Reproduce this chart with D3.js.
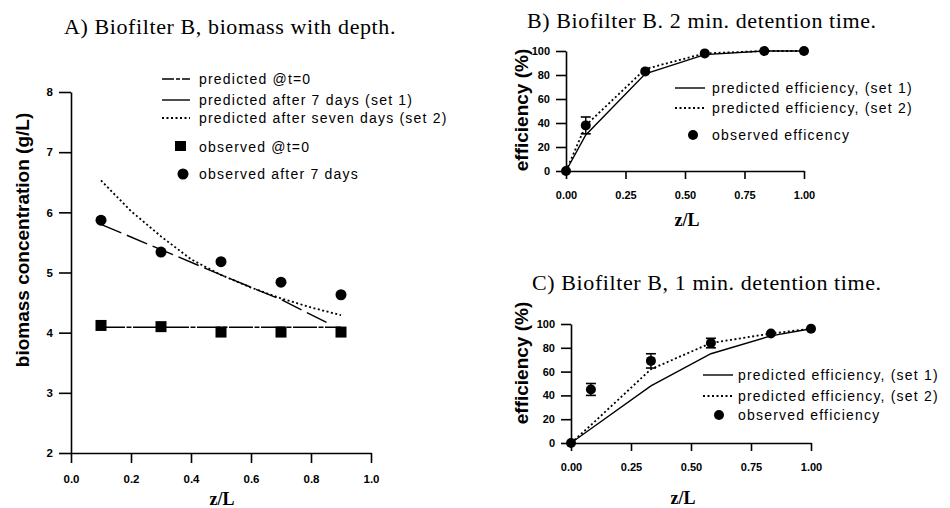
<!DOCTYPE html>
<html><head><meta charset="utf-8">
<script src="https://cdn.jsdelivr.net/npm/d3@7"></script>
<style>
body{margin:0;background:#fff;}
svg{display:block;}
.tick text{font-family:"Liberation Sans",Arial,sans-serif;font-weight:bold;font-size:11px;fill:#000;}
.title{font-family:"Liberation Serif","Times New Roman",serif;font-size:22px;letter-spacing:0.6px;}
.leg{font-family:"Liberation Sans",Arial,sans-serif;font-size:14px;letter-spacing:1.2px;}
.ylab{font-family:"Liberation Sans",Arial,sans-serif;font-weight:bold;font-size:19px;}
.xlab{font-family:"Liberation Serif","Times New Roman",serif;font-weight:bold;font-size:18px;}
</style></head>
<body><svg id="chart" width="950" height="508"></svg>
<script>
// ---------- Panel A data ----------
const aObsX = [0.1, 0.3, 0.5, 0.7, 0.9];
const aObsT0 = [4.12, 4.10, 4.01, 4.01, 4.01];
const aObs7 = [5.87, 5.34, 5.18, 4.84, 4.63];
const aPredT0X = [0.1, 0.9];
const aPredT0 = [4.09, 4.09];
const aSet1X = [0.1, 0.3, 0.5, 0.7, 0.86];
const aSet1 = [5.80, 5.38, 4.96, 4.55, 4.15];
const aSet2X = [0.1, 0.2, 0.3, 0.4, 0.5, 0.6, 0.7, 0.8, 0.9];
const aSet2 = [6.53, 6.02, 5.60, 5.22, 4.96, 4.75, 4.57, 4.42, 4.29];
const aXTicks = [0.0, 0.2, 0.4, 0.6, 0.8, 1.0];
const aYTicks = [2, 3, 4, 5, 6, 7, 8];
// ---------- Panel B data ----------
const effX = [0, 0.083, 0.333, 0.583, 0.833, 1.0];
const bObs = [0, 38, 83, 98, 100, 100];
const bErr = [0, 7, 0, 0, 0, 0];
const bSet1 = [0, 30, 81, 97, 100, 100];
const bSet2 = [0, 38, 85, 98, 100, 100];
// ---------- Panel C data ----------
const cObs = [0, 45, 69, 84, 92, 96];
const cErr = [0, 5, 6, 4, 0, 0];
const cSet1 = [0, 12, 48, 75, 90, 96];
const cSet2 = [0, 15, 62, 84, 92, 96];
const effXTicks = [0, 0.25, 0.5, 0.75, 1.0];
const effYTicks = [0, 20, 40, 60, 80, 100];

const titles = ["A) Biofilter B, biomass with depth.", "B) Biofilter B. 2 min. detention time.", "C) Biofilter B, 1 min. detention time."];
const aLegend = ["predicted @t=0", "predicted after 7 days (set 1)", "predicted after seven days (set 2)", "observed @t=0", "observed after 7 days"];
const effLegend = ["predicted efficiency, (set 1)", "predicted efficiency, (set 2)"];
const bObsLabel = "observed efficency";
const cObsLabel = "observed efficiency";

const svg = d3.select("#chart");

function axes(g, x, y, xt, yt, xfmt, yfmt, yTick, xTick) {
  const ay = g.append("g").attr("transform", `translate(${x.range()[0]},0)`)
    .call(d3.axisLeft(y).tickValues(yt).tickFormat(yfmt).tickSize(yTick).tickSizeOuter(0).tickPadding(6));
  const ax = g.append("g").attr("transform", `translate(0,${y.range()[0]})`)
    .call(d3.axisBottom(x).tickValues(xt).tickFormat(xfmt).tickSize(xTick).tickSizeOuter(0).tickPadding(12));
  [ay, ax].forEach(a => {
    a.selectAll("path,line").attr("stroke", "#000").attr("stroke-width", 1.6);
  });
}
function line(g, x, y, xs, ys, dash, w) {
  g.append("path").datum(xs.map((d, i) => [d, ys[i]]))
    .attr("d", d3.line().x(d => x(d[0])).y(d => y(d[1])))
    .attr("fill", "none").attr("stroke", "#000").attr("stroke-width", w || 1.4)
    .attr("stroke-dasharray", dash);
}

// ---------- Panel A ----------
{
  const x = d3.scaleLinear().domain([0, 1]).range([71, 371]);
  const y = d3.scaleLinear().domain([2, 8]).range([453, 92]);
  const g = svg.append("g");
  axes(g, x, y, aXTicks, aYTicks, d3.format(".1f"), d3.format("d"), 12, 10);
  g.selectAll(".tick text").style("font-size", "11.5px");
  line(g, x, y, aPredT0X, aPredT0, "24,1.5,5,1.5", 1.4);
  line(g, x, y, aSet1X, aSet1, "22,6", 1.4);
  line(g, x, y, aSet2X, aSet2, "2,2.5", 1.8);
  g.selectAll(".sq").data(aObsX).enter().append("rect")
    .attr("x", (d) => x(d) - 5.5).attr("y", (d, i) => y(aObsT0[i]) - 5.5)
    .attr("width", 11).attr("height", 11).attr("fill", "#000");
  g.selectAll(".ci").data(aObsX).enter().append("circle")
    .attr("cx", d => x(d)).attr("cy", (d, i) => y(aObs7[i])).attr("r", 5.5).attr("fill", "#000");
  svg.append("text").attr("class", "title").attr("x", 64).attr("y", 34).text(titles[0]);
  svg.append("text").attr("class", "ylab").attr("transform", "translate(29,240) rotate(-90)")
    .attr("text-anchor", "middle").text("biomass concentration (g/L)");
  svg.append("text").attr("class", "xlab").attr("x", 222).attr("y", 505).attr("text-anchor", "middle").text("z/L");
  // legend
  const rows = [79, 100, 118];
  const dashes = ["12,2,4,2", null, "2,2.5"];
  rows.forEach((r, i) => {
    g.append("line").attr("x1", 162).attr("x2", 190).attr("y1", r).attr("y2", r)
      .attr("stroke", "#000").attr("stroke-width", i === 2 ? 1.8 : 1.4).attr("stroke-dasharray", dashes[i]);
    g.append("text").attr("class", "leg").attr("x", 199).attr("y", r + 5).text(aLegend[i]);
  });
  g.append("rect").attr("x", 175).attr("y", 141).attr("width", 11).attr("height", 10).attr("fill", "#000");
  g.append("text").attr("class", "leg").attr("x", 199).attr("y", 152).text(aLegend[3]);
  g.append("circle").attr("cx", 183).attr("cy", 174).attr("r", 5.5).attr("fill", "#000");
  g.append("text").attr("class", "leg").attr("x", 199).attr("y", 179).text(aLegend[4]);
}

function effPanel(opts) {
  const x = d3.scaleLinear().domain([0, 1]).range(opts.xr);
  const y = d3.scaleLinear().domain([0, 100]).range(opts.yr);
  const g = svg.append("g");
  axes(g, x, y, effXTicks, effYTicks, d3.format(".2f"), d3.format("d"), 10, 8);
  line(g, x, y, effX, opts.set1, null, 1.4);
  line(g, x, y, effX, opts.set2, "2,2.5", 1.8);
  effX.forEach((d, i) => {
    if (opts.err[i] > 0) {
      const cx = x(d), t = y(opts.obs[i] + opts.err[i]), b = y(opts.obs[i] - opts.err[i]);
      g.append("line").attr("x1", cx).attr("x2", cx).attr("y1", t).attr("y2", b).attr("stroke", "#000").attr("stroke-width", 1.4);
      [t, b].forEach(v => g.append("line").attr("x1", cx - 5).attr("x2", cx + 5).attr("y1", v).attr("y2", v).attr("stroke", "#000").attr("stroke-width", 1.6));
    }
  });
  g.selectAll(".ob").data(effX).enter().append("circle")
    .attr("cx", d => x(d)).attr("cy", (d, i) => y(opts.obs[i])).attr("r", 5).attr("fill", "#000");
  svg.append("text").attr("class", "title").attr("x", opts.tx).attr("y", opts.ty).text(opts.title);
  svg.append("text").attr("class", "ylab").attr("transform", `translate(${opts.ylx},${opts.yly}) rotate(-90)`)
    .attr("text-anchor", "middle").text("efficiency (%)");
  svg.append("text").attr("class", "xlab").attr("x", opts.xlx).attr("y", opts.xly).attr("text-anchor", "middle").text("z/L");
  const L = opts.leg;
  [0, 1].forEach(i => {
    g.append("line").attr("x1", L.x1).attr("x2", L.x2).attr("y1", L.rows[i]).attr("y2", L.rows[i])
      .attr("stroke", "#000").attr("stroke-width", i ? 1.8 : 1.4).attr("stroke-dasharray", i ? "2,2.5" : null);
    g.append("text").attr("class", "leg").attr("x", L.tx).attr("y", L.rows[i] + 5).text(effLegend[i]);
  });
  g.append("circle").attr("cx", L.cx).attr("cy", L.rows[2]).attr("r", 5).attr("fill", "#000");
  g.append("text").attr("class", "leg").attr("x", L.tx).attr("y", L.rows[2] + 5).text(opts.obsLabel);
}

effPanel({xr: [566, 804], yr: [171, 51], obs: bObs, err: bErr, set1: bSet1, set2: bSet2,
  title: titles[1], tx: 527, ty: 28, ylx: 528, yly: 110, xlx: 687, xly: 226,
  leg: {x1: 675, x2: 705, tx: 712, cx: 693, rows: [88, 108, 135]}, obsLabel: bObsLabel});
effPanel({xr: [571, 811], yr: [443, 324], obs: cObs, err: cErr, set1: cSet1, set2: cSet2,
  title: titles[2], tx: 532, ty: 290, ylx: 528, yly: 363, xlx: 683, xly: 504,
  leg: {x1: 703, x2: 733, tx: 738, cx: 719, rows: [375, 396, 415]}, obsLabel: cObsLabel});
</script></body></html>
